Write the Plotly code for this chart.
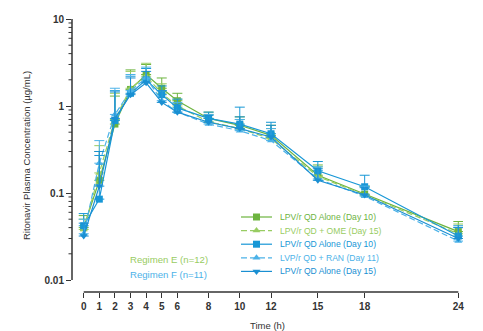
import numpy as np
import plotly.graph_objects as go

# Sampling times (h)
times = [0, 1, 2, 3, 4, 5, 6, 8, 10, 12, 15, 18, 24]

# Mean ritonavir plasma concentrations (µg/mL) and upper SD
e_alone_d10 = [0.040, 0.14, 0.62, 1.55, 2.3, 1.6, 1.15, 0.72, 0.60, 0.46, 0.16, 0.097, 0.036]
e_alone_d10_sd = [0.015, 0.16, 0.68, 1.05, 0.7, 0.5, 0.25, 0.13, 0.15, 0.14, 0.05, 0.023, 0.011]
e_ome_d15 = [0.038, 0.17, 0.70, 1.6, 2.2, 1.4, 1.0, 0.66, 0.55, 0.42, 0.155, 0.095, 0.034]
e_ome_d15_sd = [0.012, 0.18, 0.7, 0.9, 0.9, 0.4, 0.2, 0.14, 0.15, 0.13, 0.045, 0.025, 0.010]
f_alone_d10 = [0.042, 0.085, 0.68, 1.4, 2.0, 1.35, 0.95, 0.72, 0.62, 0.48, 0.18, 0.118, 0.032]
f_alone_d10_sd = [0.016, 0.185, 0.82, 0.8, 0.7, 0.35, 0.25, 0.13, 0.35, 0.17, 0.05, 0.042, 0.010]
f_ran_d11 = [0.034, 0.22, 0.80, 1.5, 2.1, 1.15, 0.85, 0.62, 0.52, 0.40, 0.145, 0.092, 0.028]
f_ran_d11_sd = [0.016, 0.18, 0.8, 0.8, 0.7, 0.35, 0.25, 0.18, 0.18, 0.15, 0.055, 0.028, 0.012]
f_alone_d15 = [0.032, 0.12, 0.72, 1.35, 1.85, 1.1, 0.85, 0.65, 0.55, 0.44, 0.14, 0.095, 0.030]
f_alone_d15_sd = [0.013, 0.18, 0.73, 0.75, 0.65, 0.4, 0.2, 0.13, 0.2, 0.16, 0.05, 0.02, 0.010]

series_names = [
    "LPV/r QD Alone (Day 10)",
    "LPV/r QD + OME (Day 15)",
    "LPV/r QD Alone (Day 10)",
    "LVP/r QD + RAN (Day 11)",
    "LPV/r QD Alone (Day 15)",
]
x_tick_vals = times
y_tick_vals = [0.01, 0.1, 1, 10]
y_tick_text = ["0.01", "0.1", "1", "10"]
regimen_labels = ["Regimen E (n=12)", "Regimen F (n=11)"]

GREEN = "#6db43f"
LGREEN = "#98cc62"
BLUE = "#1797d6"
LBLUE = "#4cb2e8"
BLUE2 = "#1a8fd2"
AXIS = "#333333"
TEXT_FONT = "Liberation Sans, Arial"

styles = [
    dict(color=GREEN, dash="solid", symbol="square"),
    dict(color=LGREEN, dash="6px,3px", symbol="triangle-up"),
    dict(color=BLUE, dash="solid", symbol="square"),
    dict(color=LBLUE, dash="6px,3px", symbol="triangle-up"),
    dict(color=BLUE2, dash="solid", symbol="triangle-down"),
]
means = [e_alone_d10, e_ome_d15, f_alone_d10, f_ran_d11, f_alone_d15]
sds = [e_alone_d10_sd, e_ome_d15_sd, f_alone_d10_sd, f_ran_d11_sd, f_alone_d15_sd]

# Figure geometry (px)
W, H = 483, 331
ML, MR, MT, MB = 72, 20, 19, 39
PW, PH = W - ML - MR, H - MT - MB
DECADE_PX = 87.0
y_low = -2 - (PH - 3 * DECADE_PX) / DECADE_PX

fig = go.Figure()
for name, m, s, st in zip(series_names, means, sds, styles):
    fig.add_trace(go.Scatter(
        x=times, y=m, name=name, mode="lines+markers",
        line=dict(color=st["color"], width=1.2, dash=st["dash"]),
        marker=dict(symbol=st["symbol"], size=7, color=st["color"]),
        error_y=dict(type="data", array=s, arrayminus=[0] * len(s),
                     symmetric=False, color=st["color"], thickness=1, width=5),
        showlegend=False,
    ))

shapes = []
# y-axis line from 0.01 to 10
shapes.append(dict(type="line", xref="paper", yref="y", x0=0, x1=0,
                   y0=0.01, y1=10, line=dict(color=AXIS, width=1.5)))
# x-axis line from 0 to 24 h
shapes.append(dict(type="line", xref="x", yref="paper", x0=0, x1=24,
                   y0=0, y1=0, line=dict(color=AXIS, width=1.5)))
# minor log ticks
for dec in [0.01, 0.1, 1]:
    for k in range(2, 10):
        v = dec * k
        shapes.append(dict(type="line", xref="paper", xsizemode="pixel", xanchor=0,
                           x0=-3.5, x1=0, yref="y", y0=v, y1=v,
                           line=dict(color=AXIS, width=1)))

# Legend block (drawn on an overlay axis in pixel units)
LEG_X0, LEG_X1, LEG_TX = 241, 272, 280
LEG_Y0, LEG_DY = 217, 13.6
annotations = []
for i, (name, st) in enumerate(zip(series_names, styles)):
    yy = LEG_Y0 + i * LEG_DY
    fig.add_trace(go.Scatter(
        x=[LEG_X0, LEG_X1], y=[yy, yy], mode="lines", xaxis="x2", yaxis="y2",
        line=dict(color=st["color"], width=1.2, dash=st["dash"]),
        showlegend=False, hoverinfo="skip"))
    fig.add_trace(go.Scatter(
        x=[(LEG_X0 + LEG_X1) / 2], y=[yy], mode="markers", xaxis="x2", yaxis="y2",
        marker=dict(symbol=st["symbol"], size=7, color=st["color"]),
        showlegend=False, hoverinfo="skip"))
    annotations.append(dict(
        xref="x2", yref="y2", x=LEG_TX - 2, y=yy, text=name, showarrow=False,
        xanchor="left", yanchor="middle",
        font=dict(family=TEXT_FONT, size=8.6, color=st["color"])))

for lbl, col, yy in zip(regimen_labels, [LGREEN, LBLUE], [259, 274]):
    annotations.append(dict(
        xref="x2", yref="y2", x=128, y=yy, text=lbl, showarrow=False,
        xanchor="left", yanchor="middle",
        font=dict(family=TEXT_FONT, size=9.6, color=col)))

fig.update_layout(
    width=W, height=H,
    margin=dict(l=ML, r=MR, t=MT, b=MB, autoexpand=False),
    paper_bgcolor="white", plot_bgcolor="white",
    font=dict(family=TEXT_FONT, color=AXIS),
    xaxis=dict(
        range=[-0.75, 24.3], tickvals=x_tick_vals, ticks="outside", ticklen=5,
        tickcolor=AXIS, tickwidth=1.2, showline=False, showgrid=False, zeroline=False,
        automargin=False,
        tickfont=dict(size=10, weight="bold", color=AXIS),
        title=dict(text="Time (h)", font=dict(size=9.5, color=AXIS), standoff=16),
    ),
    yaxis=dict(
        type="log", range=[y_low, 1], tickvals=y_tick_vals, ticktext=y_tick_text,
        ticks="outside", ticklen=5, tickcolor=AXIS, tickwidth=1.2,
        showline=False, showgrid=False, zeroline=False, automargin=False,
        tickfont=dict(size=10, weight="bold", color=AXIS),
        title=dict(text="Ritonavir Plasma Concentration (µg/mL)",
                   font=dict(size=9.5, color=AXIS), standoff=12),
    ),
    xaxis2=dict(overlaying="x", range=[ML, W - MR], visible=False, fixedrange=True),
    yaxis2=dict(overlaying="y", range=[H - MB, MT], visible=False, fixedrange=True),
    shapes=shapes,
    annotations=annotations,
    showlegend=False,
)

fig.write_html("out.html")
